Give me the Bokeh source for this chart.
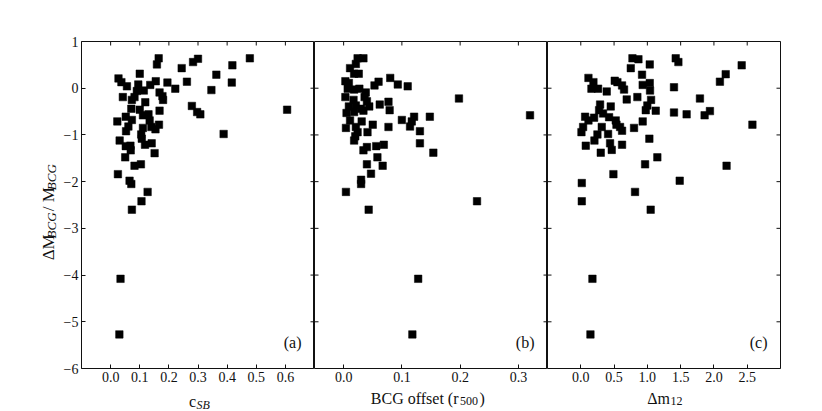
import math
from bokeh.plotting import figure
from bokeh.layouts import row, column
from bokeh.models import Range1d, FixedTicker, Label
from bokeh.core.properties import value
from bokeh.embed import file_html
from bokeh.resources import INLINE

# ---------------- data ----------------
csb = [0.165, 0.159, 0.300, 0.283, 0.478, 0.418, 0.244, 0.100, 0.363, 0.027,
       0.037, 0.056, 0.095, 0.136, 0.155, 0.195, 0.262, 0.416, 0.222, 0.346,
       0.090, 0.114, 0.168, 0.042, 0.073, 0.178, 0.180, 0.119, 0.082, 0.279,
       0.071, 0.100, 0.168, 0.297, 0.308, 0.606, 0.111, 0.130, 0.052, 0.073,
       0.023, 0.134, 0.166, 0.061, 0.111, 0.140, 0.154, 0.053, 0.105, 0.388,
       0.031, 0.107, 0.141, 0.118, 0.052, 0.068, 0.069, 0.151, 0.050, 0.082,
       0.104, 0.025, 0.065, 0.071, 0.127, 0.106, 0.073, 0.034, 0.030]
dm_a = [0.64, 0.51, 0.63, 0.56, 0.64, 0.49, 0.43, 0.31, 0.29, 0.21,
        0.13, 0.04, 0.08, 0.07, 0.15, 0.12, 0.14, 0.12, -0.01, -0.04,
        -0.06, -0.05, -0.09, -0.19, -0.25, -0.17, -0.25, -0.30, -0.19, -0.38,
        -0.44, -0.46, -0.48, -0.51, -0.56, -0.46, -0.58, -0.56, -0.61, -0.68,
        -0.71, -0.69, -0.78, -0.82, -0.85, -0.83, -0.88, -0.92, -0.99, -0.98,
        -1.12, -1.08, -1.18, -1.21, -1.24, -1.23, -1.33, -1.39, -1.48, -1.66,
        -1.63, -1.84, -1.98, -2.05, -2.22, -2.42, -2.60, -4.08, -5.27]

offset = [0.024, 0.034, 0.021, 0.011, 0.018, 0.026, 0.003, 0.009, 0.080, 0.060,
          0.053, 0.093, 0.110, 0.007, 0.018, 0.027, 0.038, 0.003, 0.017, 0.036,
          0.198, 0.040, 0.044, 0.077, 0.062, 0.009, 0.021, 0.030, 0.034, 0.079,
          0.005, 0.018, 0.320, 0.121, 0.148, 0.100, 0.117, 0.011, 0.031, 0.050,
          0.114, 0.004, 0.021, 0.077, 0.024, 0.041, 0.131, 0.020, 0.018, 0.131,
          0.069, 0.056, 0.040, 0.034, 0.154, 0.058, 0.040, 0.067, 0.047, 0.030,
          0.030, 0.004, 0.043, 0.229, 0.128, 0.118]
dm_b = [0.64, 0.64, 0.52, 0.43, 0.31, 0.31, 0.15, 0.11, 0.22, 0.14,
        0.06, 0.08, 0.04, -0.01, -0.03, -0.01, -0.09, -0.19, -0.25, -0.19,
        -0.22, -0.28, -0.39, -0.29, -0.35, -0.39, -0.37, -0.44, -0.48, -0.47,
        -0.53, -0.51, -0.58, -0.61, -0.61, -0.68, -0.71, -0.69, -0.71, -0.78,
        -0.82, -0.85, -0.83, -0.83, -0.94, -0.94, -0.92, -1.03, -1.12, -1.18,
        -1.21, -1.24, -1.26, -1.33, -1.38, -1.48, -1.63, -1.66, -1.83, -1.96,
        -2.05, -2.22, -2.60, -2.42, -4.08, -5.27]

dm12 = [0.776, 0.866, 0.751, 1.036, 1.426, 1.466, 2.417, 2.177, 2.090, 0.115,
        0.190, 0.160, 0.260, 0.390, 0.510, 0.550, 0.620, 0.650, 0.690, 0.920,
        0.930, 1.036, 1.040, 0.850, 1.056, 1.400, 1.790, 0.290, 0.450, 0.275,
        0.335, 1.000, 0.976, 1.126, 1.400, 1.590, 1.860, 1.940, 0.065, 0.115,
        0.200, 0.425, 0.525, 0.536, 0.590, 0.620, 0.035, 0.010, 0.315, 0.250,
        0.410, 0.930, 0.800, 2.578, 0.205, 0.075, 0.440, 0.465, 0.620, 0.300,
        1.030, 1.150, 0.966, 2.190, 0.490, 0.015, 1.486, 0.815, 0.015, 1.050,
        0.175, 0.145]
dm_c = [0.64, 0.62, 0.43, 0.51, 0.64, 0.56, 0.49, 0.30, 0.14, 0.22,
        0.13, -0.01, -0.01, -0.07, 0.16, 0.13, 0.06, -0.03, -0.24, 0.29,
        0.07, 0.11, -0.05, -0.19, -0.25, 0.02, -0.22, -0.35, -0.39, -0.47,
        -0.54, -0.37, -0.47, -0.48, -0.52, -0.56, -0.58, -0.49, -0.61, -0.69,
        -0.63, -0.62, -0.69, -0.78, -0.83, -0.91, -0.83, -0.94, -0.83, -0.99,
        -0.98, -0.71, -0.85, -0.78, -1.12, -1.23, -1.18, -1.32, -1.21, -1.38,
        -1.08, -1.48, -1.63, -1.66, -1.84, -2.03, -1.98, -2.22, -2.42, -2.60,
        -4.08, -5.27]

y_ticks = [1, 0, -1, -2, -3, -4, -5, -6]
y_tick_labels = ["1", "0", "\u22121", "\u22122", "\u22123", "\u22124", "\u22125", "\u22126"]
xa_ticks = [0.0, 0.1, 0.2, 0.3, 0.4, 0.5, 0.6]
xa_labels = ["0.0", "0.1", "0.2", "0.3", "0.4", "0.5", "0.6"]
xb_ticks = [0.0, 0.1, 0.2, 0.3]
xb_labels = ["0.0", "0.1", "0.2", "0.3"]
xc_ticks = [0.0, 0.5, 1.0, 1.5, 2.0, 2.5]
xc_labels = ["0.0", "0.5", "1.0", "1.5", "2.0", "2.5"]

FONT = "Liberation Serif"
LINE = "#111111"
TXT = "#111111"
TOP, FRAME_H, BOT = 41, 327, 19
H = TOP + FRAME_H + BOT
YSTRIP_W = 58


def style_axis(ax, ticks, labels, standoff):
    ax.ticker = FixedTicker(ticks=ticks)
    ax.axis_line_color = None
    ax.major_tick_line_color = LINE
    ax.major_tick_line_width = 1
    ax.major_tick_in = 4
    ax.major_tick_out = 0
    ax.minor_tick_line_color = None
    ax.axis_label = None
    ax.major_label_overrides = dict(zip(ticks, labels))
    ax.major_label_text_font = FONT
    ax.major_label_text_font_size = "14px"
    ax.major_label_text_color = TXT
    ax.major_label_standoff = standoff


def panel(xs, ys, xr, xticks, xlabels, width, bl, br, show_y, tag):
    p = figure(width=width, height=H, x_range=Range1d(*xr), y_range=Range1d(-6, 1),
               output_backend="svg", toolbar_location=None,
               y_axis_location="left" if show_y else None,
               min_border_left=bl, min_border_right=br,
               min_border_top=TOP, min_border_bottom=BOT)
    p.outline_line_color = LINE
    p.outline_line_width = 1.0
    p.xgrid.grid_line_color = None
    p.ygrid.grid_line_color = None
    p.background_fill_color = "white"
    p.border_fill_color = "white"
    style_axis(p.xaxis[0], xticks, xlabels, 3)
    if show_y:
        style_axis(p.yaxis[0], y_ticks, y_tick_labels, 3)
    else:
        # inward ticks on the shared left edge
        p.scatter([xr[0]] * len(y_ticks), y_ticks, marker="dash", size=8,
                  line_color=LINE, line_width=1)
    # inward ticks on the top and right edges
    p.scatter(xticks, [1] * len(xticks), marker="dash", angle=math.pi / 2, size=8,
              line_color=LINE, line_width=1)
    p.scatter([xr[1]] * len(y_ticks), y_ticks, marker="dash", size=8,
              line_color=LINE, line_width=1)
    p.scatter(xs, ys, marker="square", size=7.5, fill_color="black",
              line_color="black", line_width=0.5)
    p.add_layout(Label(x=xr[1], y=-6, x_offset=-13, y_offset=26, text=tag,
                       text_font=FONT, text_font_size="16px", text_align="right",
                       text_baseline="alphabetic", text_color=TXT))
    return p


pa = panel(csb, dm_a, (-0.1, 0.7), xa_ticks, xa_labels, 314 - YSTRIP_W, 81 - YSTRIP_W, 0, True, "(a)")
pb = panel(offset, dm_b, (-0.05, 0.35), xb_ticks, xb_labels, 233, 0, 0, False, "(b)")
pc = panel(dm12, dm_c, (-0.5, 3.0), xc_ticks, xc_labels, 273, 0, 40, False, "(c)")


def strip(w, h):
    s = figure(width=w, height=h, x_range=Range1d(0, w), y_range=Range1d(0, h),
               output_backend="svg", toolbar_location=None, min_border=0,
               x_axis_location=None, y_axis_location=None)
    s.outline_line_color = None
    s.xgrid.grid_line_color = None
    s.ygrid.grid_line_color = None
    s.border_fill_color = "white"
    s.background_fill_color = "white"
    return s


def put(s, xs, ys, texts, size, italic=False, angle=0.0, align="left"):
    s.text(x=xs, y=ys, text=texts, angle=angle, text_font=value(FONT),
           text_font_size=value(size),
           text_font_style=value("italic" if italic else "normal"),
           text_align=align, text_baseline="alphabetic", text_color=TXT)


# y-axis label strip (left)
ys_ = strip(YSTRIP_W, H)
R = math.pi / 2
put(ys_, [48, 48], [128, 186], ["\u0394M", "/\u00a0M"], "17px", angle=R)
put(ys_, [51, 51], [154, 211], ["BCG", "BCG"], "13px", italic=True, angle=R)

# x-axis label strip (bottom)
XS_H = 23
xs_ = strip(820, XS_H)
put(xs_, [188.5, 646.7], [9, 12], ["c", "\u0394m"], "16px")
put(xs_, [458], [12], ["BCG offset (r"], "16px", align="right")
put(xs_, [479], [12], [")"], "16px")
put(xs_, [196], [6], ["SB"], "12px", italic=True)
put(xs_, [459.5, 670], [9.5, 9.5], ["500", "12"], "12px")

layout = column(row(ys_, pa, pb, pc), xs_)
open("out.html", "w").write(file_html(layout, INLINE))
